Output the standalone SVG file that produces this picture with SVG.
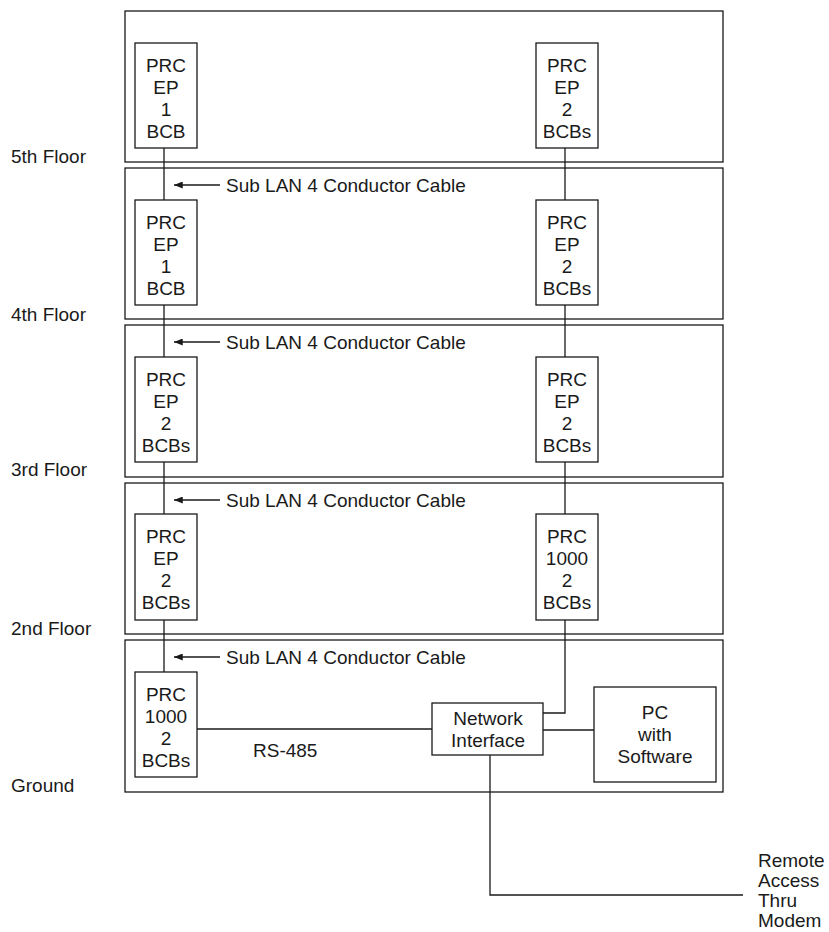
<svg xmlns="http://www.w3.org/2000/svg" width="829" height="932" viewBox="0 0 829 932">
<defs>
<style>
.floor{fill:#fff;stroke:#1a1a1a;stroke-width:1.3}
.box{fill:#fff;stroke:#1a1a1a;stroke-width:1.3}
.ln{fill:none;stroke:#1a1a1a;stroke-width:1.3}
text{font-family:"Liberation Sans",Arial,Helvetica,sans-serif;font-size:19px;fill:#1a1a1a}
.c{text-anchor:middle}
</style>
<marker id="ah" viewBox="0 0 10 8" refX="10" refY="4" markerWidth="9" markerHeight="7" markerUnits="userSpaceOnUse" orient="auto">
<path d="M0,0 L10,4 L0,8 Z" fill="#1a1a1a"/>
</marker>
</defs>
<rect width="829" height="932" fill="#fff"/>
<g id="floors">
<rect class="floor" x="125" y="11" width="598" height="151"/>
<rect class="floor" x="125" y="168" width="598" height="151"/>
<rect class="floor" x="125" y="325" width="598" height="152"/>
<rect class="floor" x="125" y="483" width="598" height="151"/>
<rect class="floor" x="125" y="640" width="598" height="152"/>
</g>
<g id="floor-labels">
<text x="11" y="163">5th Floor</text>
<text x="11" y="321">4th Floor</text>
<text x="11" y="476">3rd Floor</text>
<text x="11" y="635">2nd Floor</text>
<text x="11" y="792">Ground</text>
</g>
<g id="connectors">
<line class="ln" x1="164" y1="148" x2="164" y2="200"/>
<line class="ln" x1="164" y1="305" x2="164" y2="357"/>
<line class="ln" x1="164" y1="462" x2="164" y2="514"/>
<line class="ln" x1="164" y1="620" x2="164" y2="672"/>
<line class="ln" x1="565" y1="148" x2="565" y2="200"/>
<line class="ln" x1="565" y1="305" x2="565" y2="357"/>
<line class="ln" x1="565" y1="462" x2="565" y2="514"/>
<polyline class="ln" points="565,620 565,713 543,713"/>
<line class="ln" x1="197" y1="729" x2="432" y2="729"/>
<line class="ln" x1="543" y1="730" x2="594" y2="730"/>
<polyline class="ln" points="490,755 490,895 743,895"/>
<line class="ln" x1="220" y1="185" x2="174" y2="185" marker-end="url(#ah)"/>
<line class="ln" x1="220" y1="342" x2="174" y2="342" marker-end="url(#ah)"/>
<line class="ln" x1="220" y1="500" x2="174" y2="500" marker-end="url(#ah)"/>
<line class="ln" x1="220" y1="657" x2="174" y2="657" marker-end="url(#ah)"/>
</g>
<g id="cable-labels">
<text x="226" y="192">Sub LAN 4 Conductor Cable</text>
<text x="226" y="349">Sub LAN 4 Conductor Cable</text>
<text x="226" y="507">Sub LAN 4 Conductor Cable</text>
<text x="226" y="664">Sub LAN 4 Conductor Cable</text>
<text x="253" y="757">RS-485</text>
</g>
<g id="prc-5-left">
<rect class="box" x="135" y="43" width="62" height="105"/>
<text class="c" x="166" y="72">PRC</text><text class="c" x="166" y="94">EP</text><text class="c" x="166" y="116">1</text><text class="c" x="166" y="138">BCB</text>
</g>
<g id="prc-5-right">
<rect class="box" x="536" y="43" width="62" height="105"/>
<text class="c" x="567" y="72">PRC</text><text class="c" x="567" y="94">EP</text><text class="c" x="567" y="116">2</text><text class="c" x="567" y="138">BCBs</text>
</g>
<g id="prc-4-left">
<rect class="box" x="135" y="200" width="62" height="105"/>
<text class="c" x="166" y="229">PRC</text><text class="c" x="166" y="251">EP</text><text class="c" x="166" y="273">1</text><text class="c" x="166" y="295">BCB</text>
</g>
<g id="prc-4-right">
<rect class="box" x="536" y="200" width="62" height="105"/>
<text class="c" x="567" y="229">PRC</text><text class="c" x="567" y="251">EP</text><text class="c" x="567" y="273">2</text><text class="c" x="567" y="295">BCBs</text>
</g>
<g id="prc-3-left">
<rect class="box" x="135" y="357" width="62" height="105"/>
<text class="c" x="166" y="386">PRC</text><text class="c" x="166" y="408">EP</text><text class="c" x="166" y="430">2</text><text class="c" x="166" y="452">BCBs</text>
</g>
<g id="prc-3-right">
<rect class="box" x="536" y="357" width="62" height="105"/>
<text class="c" x="567" y="386">PRC</text><text class="c" x="567" y="408">EP</text><text class="c" x="567" y="430">2</text><text class="c" x="567" y="452">BCBs</text>
</g>
<g id="prc-2-left">
<rect class="box" x="135" y="514" width="62" height="106"/>
<text class="c" x="166" y="543">PRC</text><text class="c" x="166" y="565">EP</text><text class="c" x="166" y="587">2</text><text class="c" x="166" y="609">BCBs</text>
</g>
<g id="prc-2-right">
<rect class="box" x="536" y="514" width="62" height="106"/>
<text class="c" x="567" y="543">PRC</text><text class="c" x="567" y="565">1000</text><text class="c" x="567" y="587">2</text><text class="c" x="567" y="609">BCBs</text>
</g>
<g id="prc-ground">
<rect class="box" x="135" y="672" width="62" height="105"/>
<text class="c" x="166" y="701">PRC</text><text class="c" x="166" y="723">1000</text><text class="c" x="166" y="745">2</text><text class="c" x="166" y="767">BCBs</text>
</g>
<g id="network-interface">
<rect class="box" x="432" y="703" width="111" height="52"/>
<text class="c" x="488" y="725">Network</text><text class="c" x="488" y="747">Interface</text>
</g>
<g id="pc">
<rect class="box" x="594" y="687" width="122" height="95"/>
<text class="c" x="655" y="719">PC</text><text class="c" x="655" y="741">with</text><text class="c" x="655" y="763">Software</text>
</g>
<g id="remote">
<text x="758" y="867">Remote</text><text x="758" y="887">Access</text><text x="758" y="907">Thru</text><text x="758" y="927">Modem</text>
</g>
</svg>
